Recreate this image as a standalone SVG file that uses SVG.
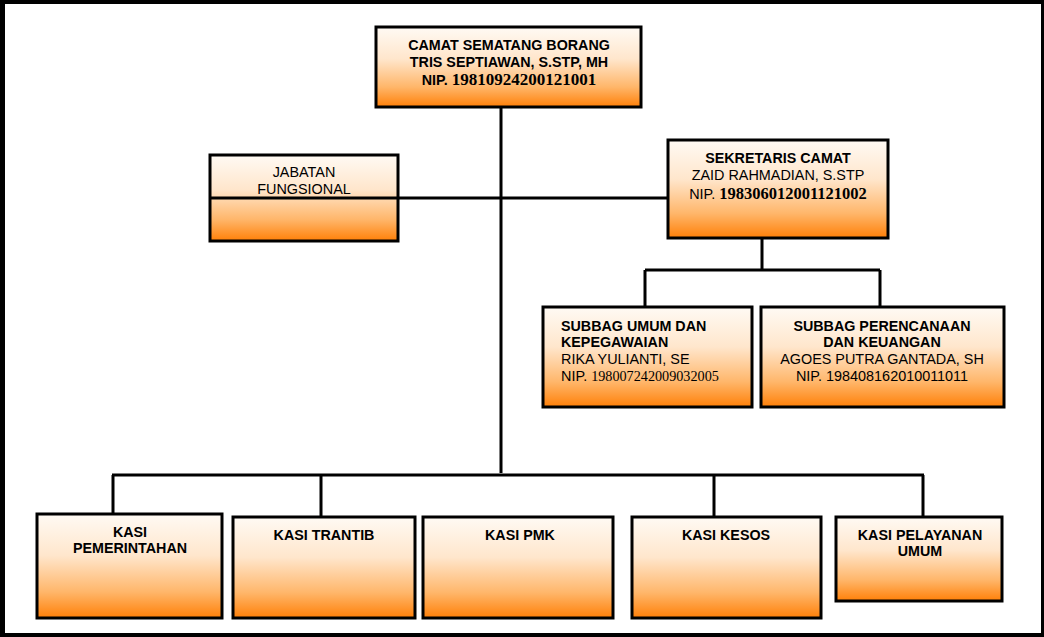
<svg xmlns="http://www.w3.org/2000/svg" width="1044" height="637" viewBox="0 0 1044 637">
<defs>
<linearGradient id="og" x1="0" y1="0" x2="0" y2="1">
<stop offset="0" stop-color="#fffaf4"/>
<stop offset="0.4" stop-color="#ffe6cc"/>
<stop offset="0.75" stop-color="#ffb66a"/>
<stop offset="1" stop-color="#ff8008"/>
</linearGradient>
<style>
.box{fill:url(#og);stroke:#000;stroke-width:3}
.ln{stroke:#000;stroke-width:3;fill:none}
.b{font-family:"Liberation Sans",Arial,sans-serif;font-weight:bold;font-size:14.3px;fill:#000}
.r{font-family:"Liberation Sans",Arial,sans-serif;font-size:14.4px;fill:#000}
.sb{font-family:"Liberation Serif","Times New Roman",serif;font-weight:bold;font-size:17px}
.sr{font-family:"Liberation Serif","Times New Roman",serif;font-size:14.2px}
.c{text-anchor:middle}
</style>
</defs>
<rect x="0" y="0" width="1044" height="637" fill="#000"/>
<rect x="5" y="4" width="1036" height="629" fill="#fff"/>
<g id="connectors">
<path class="ln" d="M501 107V473"/>
<path class="ln" d="M398 198H668"/>
<path class="ln" d="M762 238V270M645 270H880M645 270V307M880 270V307"/>
<path class="ln" d="M112 475H924M113 475V514M321 475V517M714 475V517M923 475V517"/>
</g>
<g id="camat">
<rect class="box" x="376" y="27" width="265" height="80"/>
<text class="b c" x="509" y="50">CAMAT SEMATANG BORANG</text>
<text class="b c" x="509" y="67">TRIS SEPTIAWAN, S.STP, MH</text>
<text class="b c" x="509" y="85">NIP. <tspan class="sb">19810924200121001</tspan></text>
</g>
<g id="jabatan">
<rect class="box" x="210" y="155" width="188" height="86"/>
<path class="ln" d="M210 198H398"/>
<text class="r c" x="304" y="177">JABATAN</text>
<text class="r c" x="304" y="194">FUNGSIONAL</text>
</g>
<g id="sekretaris">
<rect class="box" x="668" y="140" width="220" height="98"/>
<text class="b c" x="778" y="163">SEKRETARIS CAMAT</text>
<text class="r c" x="778" y="180">ZAID RAHMADIAN, S.STP</text>
<text class="r c" x="778" y="199">NIP. <tspan class="sb" style="font-size:16.5px">198306012001121002</tspan></text>
</g>
<g id="subbag-umum">
<rect class="box" x="543" y="307" width="209" height="100"/>
<text class="b" x="561" y="331">SUBBAG UMUM DAN</text>
<text class="b" x="561" y="347">KEPEGAWAIAN</text>
<text class="r" x="561" y="364">RIKA YULIANTI, SE</text>
<text class="r" x="561" y="381">NIP. <tspan class="sr">198007242009032005</tspan></text>
</g>
<g id="subbag-perencanaan">
<rect class="box" x="761" y="307" width="243" height="100"/>
<text class="b c" x="882" y="331">SUBBAG PERENCANAAN</text>
<text class="b c" x="882" y="347">DAN KEUANGAN</text>
<text class="r c" x="882" y="364">AGOES PUTRA GANTADA, SH</text>
<text class="r c" x="882" y="381">NIP. 198408162010011011</text>
</g>
<g id="kasi-pemerintahan">
<rect class="box" x="37" y="514" width="185" height="104"/>
<text class="b c" x="130" y="537">KASI</text>
<text class="b c" x="130" y="553">PEMERINTAHAN</text>
</g>
<g id="kasi-trantib">
<rect class="box" x="233" y="517" width="182" height="101"/>
<text class="b c" x="324" y="540">KASI TRANTIB</text>
</g>
<g id="kasi-pmk">
<rect class="box" x="423" y="517" width="190" height="101"/>
<text class="b c" x="520" y="540">KASI PMK</text>
</g>
<g id="kasi-kesos">
<rect class="box" x="632" y="517" width="189" height="101"/>
<text class="b c" x="726" y="540">KASI KESOS</text>
</g>
<g id="kasi-pelayanan">
<rect class="box" x="836" y="517" width="166" height="84"/>
<text class="b c" x="920" y="540">KASI PELAYANAN</text>
<text class="b c" x="920" y="556">UMUM</text>
</g>
</svg>
